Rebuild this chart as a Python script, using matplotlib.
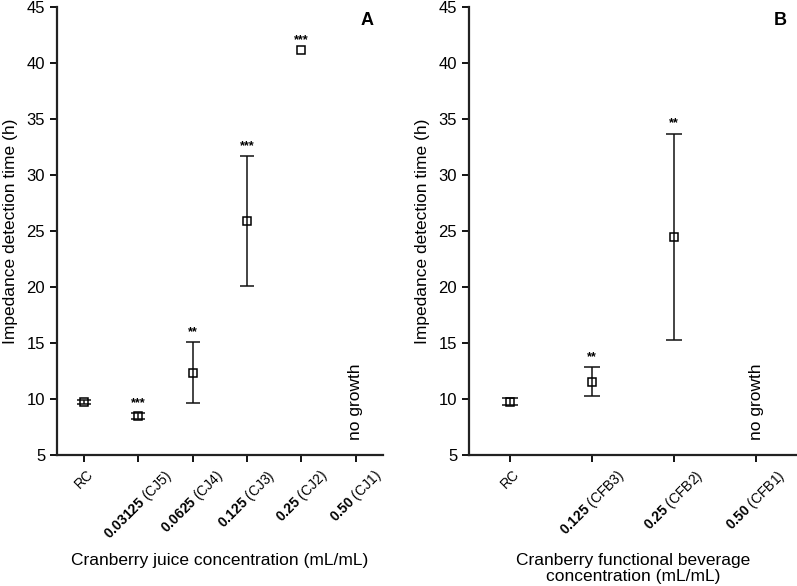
import matplotlib
matplotlib.use('Agg')
import matplotlib.pyplot as plt
import matplotlib.transforms as mtransforms

plt.rcParams['font.family'] = ['Liberation Sans', 'DejaVu Sans']
plt.rcParams['mathtext.fontset'] = 'custom'
plt.rcParams['mathtext.bf'] = 'Liberation Sans:bold'
plt.rcParams['mathtext.rm'] = 'Liberation Sans'

nan = float('nan')

# panel A: cranberry juice
juice_conc = ['0.03125', '0.0625', '0.125', '0.25', '0.50']
juice_codes = ['CJ5', 'CJ4', 'CJ3', 'CJ2', 'CJ1']
juice_mean = [9.75, 8.5, 12.35, 25.9, 41.15]
juice_err = [0.2, 0.25, 2.7, 5.8, nan]
juice_sig = ['', '***', '**', '***', '***']

# panel B: cranberry functional beverage
bev_conc = ['0.125', '0.25', '0.50']
bev_codes = ['CFB3', 'CFB2', 'CFB1']
bev_mean = [9.75, 11.55, 24.5]
bev_err = [0.3, 1.3, 9.2]
bev_sig = ['', '**', '**']


def make_labels(conc, codes):
    labels = ['RC']
    for c, k in zip(conc, codes):
        labels.append(r'$\mathbf{' + c + '}$ (' + k + ')')
    return labels


def draw_panel(ax, labels, mean, err, sig, letter, xlabel, capsize, pad):
    n = len(labels)
    xs = list(range(len(mean)))
    ax.errorbar(xs, mean, yerr=err, fmt='s', mfc='none', mec='black', ms=6,
                mew=1.1, ecolor='#111111', elinewidth=1.1, capsize=capsize,
                capthick=1.1, color='black')
    for x, m, e, s in zip(xs, mean, err, sig):
        if s:
            top = m + (e if e == e else 0) + 0.35
            ax.text(x, top, s, ha='center', va='bottom', fontsize=9,
                    fontweight='bold')
    ax.text(n - 1, 9.8, 'no growth', rotation=90, ha='center', va='center',
            fontsize=12.5)
    ax.set_xlim(-0.5, n - 0.5)
    ax.set_ylim(5, 45)
    ax.set_yticks(range(5, 46, 5))
    ax.set_xticks(range(n))
    ax.set_xticklabels(labels, rotation=45, ha='center', fontsize=10)
    shift = mtransforms.ScaledTranslation(-5 / 100, 0, ax.figure.dpi_scale_trans)
    for lab in ax.get_xticklabels():
        lab.set_transform(lab.get_transform() + shift)
    ax.tick_params(axis='y', labelsize=12, direction='out', length=5, width=1.3)
    ax.tick_params(axis='x', direction='out', length=5, width=1.3)
    for side in ['top', 'right']:
        ax.spines[side].set_visible(False)
    for side in ['left', 'bottom']:
        ax.spines[side].set_linewidth(1.6)
        ax.spines[side].set_color('#222222')
    ax.set_ylabel('Impedance detection time (h)', fontsize=12.5, labelpad=6)
    ax.set_xlabel(xlabel, fontsize=12.5, labelpad=pad, linespacing=1.1)
    ax.text(0.95, 0.97, letter, transform=ax.transAxes, ha='center', va='center',
            fontsize=13, fontweight='bold')


fig = plt.figure(figsize=(7.97, 5.86), dpi=100)
ax1 = fig.add_axes([0.0715, 0.2235, 0.409, 0.7645])
ax2 = fig.add_axes([0.5885, 0.2235, 0.4115, 0.7645])

draw_panel(ax1, make_labels(juice_conc, juice_codes), juice_mean, juice_err,
           juice_sig, 'A', 'Cranberry juice concentration (mL/mL)', 5, 7.5)
draw_panel(ax2, make_labels(bev_conc, bev_codes), bev_mean, bev_err,
           bev_sig, 'B', 'Cranberry functional beverage\nconcentration (mL/mL)', 6, 10)

fig.savefig('out.png', dpi=100)
